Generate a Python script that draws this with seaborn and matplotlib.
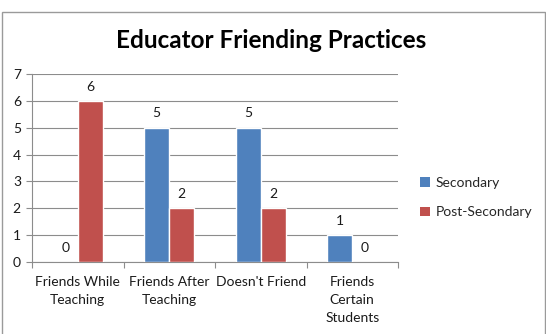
import matplotlib
matplotlib.use("Agg")
import matplotlib.pyplot as plt
import seaborn as sns
import pandas as pd
from matplotlib.patches import Patch, Rectangle

categories = ["Friends While\nTeaching", "Friends After\nTeaching", "Doesn't Friend", "Friends\nCertain\nStudents"]
secondary = [0, 5, 5, 1]
post_secondary = [6, 2, 2, 0]
series_names = ["Secondary", "Post-Secondary"]
y_ticks = [0, 1, 2, 3, 4, 5, 6, 7]
title = "Educator Friending Practices"

colors = ["#4F81BD", "#C0504D"]
grid_c = "#8C8C8C"

sns.set_theme(style="white")
plt.rcParams['font.family'] = ['Lato', 'DejaVu Sans']

df = pd.DataFrame({
    "category": categories * 2,
    "value": secondary + post_secondary,
    "series": [series_names[0]] * 4 + [series_names[1]] * 4,
})

fig = plt.figure(figsize=(5.46, 3.34), dpi=100)
ax = fig.add_axes([32/546, 1-262/334, (398-32)/546, (262-74)/334])

# outer chart border
fig.patches.append(Rectangle((1.5/546, -0.1), (544.5-1.5)/546, 1.1 - 12/334,
                             transform=fig.transFigure, fill=False,
                             edgecolor="#9A9A9A", linewidth=1.0))

sns.barplot(data=df, x="category", y="value", hue="series", palette=colors,
            width=0.55, ax=ax, saturation=1, legend=False, zorder=3)

for cont in ax.containers:
    ax.bar_label(cont, labels=[f"{int(b.get_height())}" for b in cont],
                 padding=6, fontsize=10, color="#1a1a1a")

ax.set_ylim(0, 7)
ax.set_xlim(-0.5, 3.5)
ax.set_yticks(y_ticks)
ax.set_yticklabels([str(v) for v in y_ticks], fontsize=10, color="#1a1a1a")
ax.yaxis.grid(True, color=grid_c, linewidth=0.8, zorder=0)
ax.set_axisbelow(True)
ax.set_xlabel("")
ax.set_ylabel("")

# x ticks at category boundaries, labels centered
ax.set_xticks([-0.5, 0.5, 1.5, 2.5, 3.5])
ax.set_xticklabels([])
ax.set_xticks([0, 1, 2, 3], minor=True)
ax.set_xticklabels(categories, minor=True, fontsize=10, color="#1a1a1a", linespacing=1.62)
ax.tick_params(axis="x", which="major", direction="out", length=4, width=0.8, color=grid_c, bottom=True)
ax.tick_params(axis="x", which="minor", length=0, pad=10)
ax.tick_params(axis="y", direction="out", length=4, width=0.8, color=grid_c, left=True, pad=4)

for s in ["top", "right"]:
    ax.spines[s].set_visible(False)
for s in ["left", "bottom"]:
    ax.spines[s].set_color(grid_c)
    ax.spines[s].set_linewidth(0.8)

fig.text(271/546, 1-41/334, title, ha="center", va="center", fontsize=17.5,
         fontweight="bold", color="#000000")

handles = [Patch(facecolor=c, edgecolor="none") for c in colors]
fig.legend(handles, series_names, loc="upper left",
           bbox_to_anchor=(420/546, 1-177/334), frameon=False, fontsize=10,
           handlelength=0.7, handleheight=0.7, handletextpad=0.4,
           labelspacing=1.25, borderaxespad=0, borderpad=0)

fig.savefig("out.png", dpi=100, facecolor="white")
